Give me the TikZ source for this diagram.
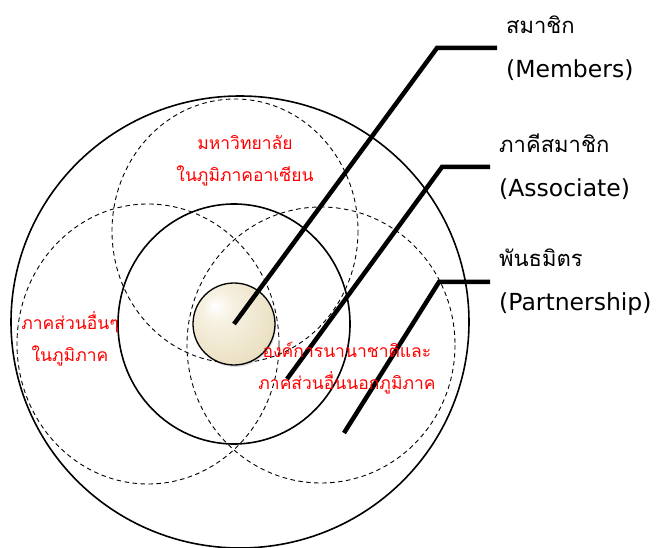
\documentclass[tikz,border=0pt]{standalone}
\usepackage{fontspec}
\setmainfont{DejaVu Sans}
\newfontfamily\thaifont[Script=Thai]{Loma}
\usetikzlibrary{shadows}

\definecolor{pearlA}{RGB}{246,241,226}
\definecolor{pearlB}{RGB}{236,226,198}
\definecolor{pearlC}{RGB}{200,182,138}
\pgfdeclareradialshading{pearl}{\pgfpoint{-12bp}{12bp}}{color(0bp)=(white); color(9bp)=(pearlA); color(28bp)=(pearlB); color(50bp)=(pearlC)}

\newcommand{\thaitag}[1]{{\thaifont\fontsize{22}{44}\selectfont #1}}

\begin{document}
\begin{tikzpicture}[x=1pt, y=-1pt,
    ring/.style={draw, line width=1.6pt},
    halo/.style={draw, line width=0.9pt, dash pattern=on 4.5pt off 3.5pt},
    core/.style={circle, draw, line width=1.3pt, minimum size=82pt, inner sep=0pt,
      shading=pearl, drop shadow={shadow xshift=1pt, shadow yshift=-2pt, opacity=0.25}},
    lead/.style={line width=4.5pt},
    tag/.style={anchor=west, align=left, inner xsep=9pt, inner ysep=0pt,
      font=\fontsize{23.5}{44}\selectfont},
    zone/.style={align=center, text=red, font=\thaifont\fontsize{17.5}{32}\selectfont}
  ]
  \useasboundingbox (0,0) rectangle (662,548);

  \draw[ring] (240,322) ellipse [x radius=229, y radius=226];
  \draw[ring] (234,324) ellipse [x radius=116, y radius=120];

  \draw[halo] (235,231) ellipse [x radius=123, y radius=132];
  \draw[halo] (148,344) ellipse [x radius=131, y radius=140];
  \draw[halo] (321,345) ellipse [x radius=134, y radius=138];

  \node[core] (core) at (234,324) {};

  \node[tag] (lblMem) at (497,48) {\thaitag{สมาชิก}\\(Members)};
  \node[tag] (lblAsc) at (490,167) {\thaitag{ภาคีสมาชิก}\\(Associate)};
  \node[tag] (lblPar) at (490,282) {\thaitag{พันธมิตร}\\(Partnership)};

  \coordinate (bendMem) at (437,48);
  \coordinate (bendAsc) at (442,167);
  \coordinate (bendPar) at (439,282);
  \coordinate (footAsc) at (287,379);
  \coordinate (footPar) at (344,433);

  \draw[lead] (core.center) -- (bendMem) -- (lblMem.west);
  \draw[lead] (footAsc) -- (bendAsc) -- (lblAsc.west);
  \draw[lead] (footPar) -- (bendPar) -- (lblPar.west);

  \node[zone] (univ) at (245,161) {มหาวิทยาลัย\\ในภูมิภาคอาเซียน};
  \node[zone] (local) at (70,339) {ภาคส่วนอื่นๆ\\ในภูมิภาค};
  \node[zone] (intl) at (347,368) {องค์การนานาชาติและ\\ภาคส่วนอื่นนอกภูมิภาค};
\end{tikzpicture}
\end{document}
